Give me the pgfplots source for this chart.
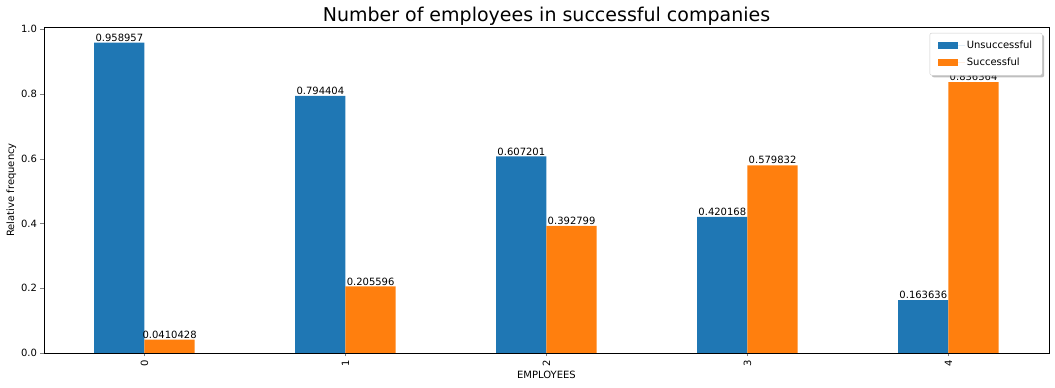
\documentclass[border=0pt]{standalone}
\usepackage{pgfplots}
\pgfplotsset{compat=1.18}
\usepackage{fontspec}
\setmainfont{DejaVu Sans}
\usetikzlibrary{shadows}
\makeatletter
\tikzset{no preactions/.code={\let\tikz@preactions\pgfutil@empty}}
\makeatother
\definecolor{mplblue}{HTML}{1F77B4}
\definecolor{mplorange}{HTML}{FF7F0E}
\begin{document}
\begin{tikzpicture}[x=1pt,y=1pt]
\path[use as bounding box] (-44,-35) rectangle (1011,353);
\begin{axis}[
  at={(0,0)}, anchor=south west,
  scale only axis, width=1005pt, height=326pt,
  ybar=0pt, bar width=0.25,
  xmin=-0.5, xmax=4.5, ymin=0, ymax=1.0069,
  xtick={0,1,2,3,4},
  xticklabel style={rotate=90, anchor=east},
  ytick={0,0.2,0.4,0.6,0.8,1.0},
  yticklabel style={/pgf/number format/.cd, fixed, fixed zerofill, precision=1},
  /pgf/number format/assume math mode=true,
  tick align=outside, xtick pos=bottom, ytick pos=left,
  major tick length=3.5pt,
  tick label style={font=\fontsize{10}{12}\selectfont},
  label style={font=\fontsize{10}{12}\selectfont},
  xlabel={EMPLOYEES}, ylabel={Relative frequency},
  xlabel style={yshift=2pt},
  ylabel style={yshift=-2pt},
  title={Number of employees in successful companies},
  title style={font=\fontsize{19}{23}\selectfont, yshift=-8pt},
  axis line style={line width=0.8pt},
  nodes near coords,
  point meta=explicit symbolic,
  every node near coord/.append style={font=\fontsize{10}{12}\selectfont, inner sep=0pt, anchor=south, yshift=1pt},
  legend style={at={(0.9935,0.982)}, anchor=north east, font=\fontsize{10}{12}\selectfont,
    draw=black!20, rounded corners=2pt, fill=white, drop shadow={shadow xshift=2pt, shadow yshift=-2pt, fill=black!50},
    inner xsep=8pt, inner ysep=6pt, row sep=4pt},
  legend cell align=left,
  legend image code/.code={\fill[#1, no preactions, sharp corners] (0pt,-3.5pt) rectangle (20pt,3.5pt); \path[no preactions] (0pt,0pt) -- (27pt,0pt);},
]
\addplot[fill=mplblue, draw=none] table[meta=m] {
x y m
0 0.958957 0.958957
1 0.794404 0.794404
2 0.607201 0.607201
3 0.420168 0.420168
4 0.163636 0.163636
};
\addlegendentry{Unsuccessful}
\addplot[fill=mplorange, draw=none] table[meta=m] {
x y m
0 0.0410428 0.0410428
1 0.205596 0.205596
2 0.392799 0.392799
3 0.579832 0.579832
4 0.836364 0.836364
};
\addlegendentry{Successful}
\end{axis}
\end{tikzpicture}
\end{document}
